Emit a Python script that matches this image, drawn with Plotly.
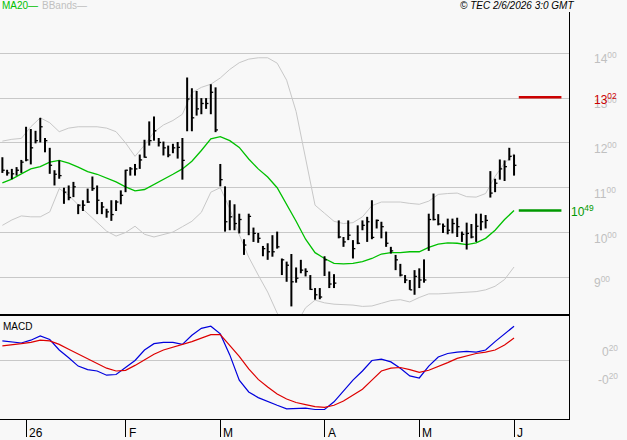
import numpy as np
import pandas as pd
import plotly.graph_objects as go

# ---------------- data ----------------
holidays = ["2025-12-25", "2025-12-26", "2026-01-01", "2026-04-03", "2026-04-06", "2026-05-01"]
dates = pd.bdate_range("2025-12-23", "2026-06-01", freq="C", holidays=holidays)

high = [11.68, 11.40, 11.42, 11.46, 11.62, 12.36, 12.31, 12.27, 12.56, 12.11,
        11.89, 11.39, 11.61, 11.00, 11.05, 11.13, 10.63, 10.72, 10.98, 11.25,
        11.05, 10.68, 10.53, 10.72, 10.72, 10.94, 11.40, 11.46, 11.53, 11.74,
        12.07, 12.48, 12.59, 12.11, 12.03, 11.94, 11.98, 12.02, 12.11, 13.46,
        13.22, 13.16, 13.00, 13.00, 13.31, 13.24, 11.53, 11.03, 10.72, 10.63,
        10.42, 9.85, 10.42, 10.11, 9.99, 9.70, 9.76, 9.94, 10.02, 9.42,
        9.35, 9.52, 9.22, 9.39, 9.20, 9.05, 8.76, 8.76, 9.47, 9.13,
        9.07, 10.27, 9.90, 10.27, 9.83, 10.16, 10.27, 10.35, 10.72, 10.29,
        10.24, 10.02, 9.68, 9.50, 9.30, 9.05, 8.94, 9.16, 9.20, 9.40,
        10.42, 10.87, 10.41, 10.20, 10.31, 10.31, 10.33, 10.02, 10.22, 10.19,
        10.42, 10.42, 10.39, 11.37, 11.20, 11.63, 11.61, 11.89, 11.74]
low = [11.33, 11.27, 11.19, 11.27, 11.33, 11.59, 11.52, 11.99, 12.01, 11.79,
       11.31, 11.05, 11.20, 10.64, 10.72, 10.79, 10.41, 10.48, 10.66, 10.93,
       10.41, 10.41, 10.33, 10.26, 10.48, 10.63, 10.90, 11.27, 11.27, 11.42,
       11.67, 11.94, 12.05, 11.92, 11.72, 11.68, 11.77, 11.65, 11.18, 12.26,
       12.26, 12.61, 12.64, 12.76, 12.64, 12.24, 11.03, 10.02, 10.05, 10.05,
       9.98, 9.50, 9.94, 9.79, 9.77, 9.47, 9.39, 9.46, 9.64, 9.05,
       8.90, 8.35, 8.88, 9.09, 9.02, 8.72, 8.50, 8.51, 9.03, 8.76,
       8.76, 9.87, 9.68, 9.83, 9.42, 9.74, 10.05, 9.79, 9.85, 10.09,
       9.87, 9.68, 9.53, 9.16, 9.02, 8.87, 8.72, 8.61, 8.76, 8.88,
       9.59, 10.27, 10.16, 9.99, 9.96, 9.98, 9.90, 9.79, 9.62, 9.87,
       9.79, 10.05, 10.09, 10.78, 10.90, 11.18, 11.15, 11.61, 11.27]
close = [11.39, 11.33, 11.31, 11.39, 11.57, 11.62, 11.89, 12.05, 12.36, 12.05,
         11.50, 11.30, 11.27, 10.90, 10.78, 11.02, 10.61, 10.61, 10.68, 10.98,
         10.72, 10.57, 10.46, 10.40, 10.68, 10.83, 11.39, 11.42, 11.42, 11.62,
         11.68, 12.05, 12.27, 12.01, 11.89, 11.73, 11.89, 11.90, 11.61, 12.98,
         12.56, 12.76, 12.88, 12.88, 13.13, 12.29, 11.18, 10.24, 10.35, 10.20,
         10.29, 9.72, 10.36, 9.98, 9.87, 9.64, 9.57, 9.57, 9.68, 9.39,
         9.27, 8.90, 8.98, 9.16, 9.13, 8.73, 8.61, 8.56, 9.39, 8.85,
         8.87, 9.90, 9.79, 9.94, 9.64, 9.76, 10.16, 10.24, 9.89, 10.27,
         10.13, 9.76, 9.59, 9.39, 9.05, 8.94, 8.72, 9.02, 8.94, 8.94,
         10.29, 10.29, 10.19, 10.14, 10.05, 10.20, 10.13, 9.96, 9.98, 9.90,
         10.14, 10.24, 10.27, 10.88, 11.10, 11.42, 11.47, 11.70, 11.50]

# indicator values read every second session
ma20 = [11.11, 11.19, 11.31, 11.42, 11.47, 11.57, 11.61, 11.55, 11.46, 11.36,
        11.30, 11.22, 11.13, 11.02, 10.93, 10.96, 11.07, 11.19, 11.30, 11.42,
        11.59, 11.83, 12.09, 12.14, 12.05, 11.90, 11.64, 11.42, 11.24, 11.00,
        10.63, 10.25, 9.85, 9.55, 9.42, 9.31, 9.30, 9.31, 9.35, 9.42,
        9.52, 9.55, 9.55, 9.57, 9.57, 9.67, 9.74, 9.77, 9.76, 9.73,
        9.77, 9.87, 10.05, 10.29, 10.49]
bb_up = [12.04, 12.08, 12.10, 12.36, 12.56, 12.45, 12.25, 12.33, 12.36, 12.36,
         12.36, 12.33, 12.25, 12.00, 11.70, 11.95, 12.24, 12.40, 12.50, 12.64,
         13.12, 13.24, 13.31, 13.45, 13.64, 13.79, 13.87, 13.90, 13.90, 13.78,
         13.40, 12.70, 11.65, 10.61, 10.43, 10.25, 10.20, 10.22, 10.35, 10.60,
         10.68, 10.68, 10.68, 10.65, 10.63, 10.70, 10.85, 10.87, 10.88, 10.80,
         10.79, 10.87, 11.25, 11.55, 11.76]
bb_lo = [10.16, 10.28, 10.37, 10.35, 10.35, 10.46, 10.98, 10.83, 10.62, 10.42,
         10.22, 10.03, 9.92, 10.00, 10.14, 9.96, 9.90, 9.95, 10.01, 10.13,
         10.25, 10.45, 10.90, 11.00, 10.53, 9.95, 9.45, 9.05, 8.67, 8.20,
         7.95, 7.95, 8.32, 8.49, 8.43, 8.40, 8.39, 8.38, 8.35, 8.36,
         8.42, 8.48, 8.50, 8.45, 8.55, 8.63, 8.63, 8.64, 8.65, 8.66,
         8.68, 8.72, 8.80, 8.95, 9.23]
macd = [0.28, 0.26, 0.25, 0.29, 0.35, 0.30, 0.15, 0.04, -0.08, -0.13,
        -0.15, -0.21, -0.20, -0.10, 0.00, 0.15, 0.24, 0.26, 0.26, 0.23,
        0.36, 0.46, 0.49, 0.38, 0.08, -0.28, -0.45, -0.53, -0.59, -0.64,
        -0.69, -0.68, -0.68, -0.70, -0.70, -0.59, -0.43, -0.28, -0.15, 0.00,
        0.02, -0.02, -0.11, -0.22, -0.25, -0.08, 0.05, 0.10, 0.12, 0.13,
        0.12, 0.15, 0.27, 0.38, 0.49]
signal = [0.21, 0.22, 0.24, 0.26, 0.29, 0.28, 0.23, 0.16, 0.09, 0.02,
          -0.05, -0.11, -0.15, -0.14, -0.07, 0.01, 0.09, 0.15, 0.19, 0.22,
          0.27, 0.32, 0.37, 0.37, 0.22, 0.06, -0.12, -0.27, -0.38, -0.48,
          -0.55, -0.60, -0.63, -0.66, -0.67, -0.64, -0.58, -0.49, -0.41, -0.28,
          -0.15, -0.11, -0.10, -0.13, -0.17, -0.14, -0.09, -0.03, 0.03, 0.07,
          0.10, 0.12, 0.15, 0.22, 0.32]

resistance = 13.02
price_ticks = [9, 10, 11, 12, 13, 14]
macd_ticks = [0.2, -0.2]

# ---------------- build ----------------
n = len(dates)
idx = np.arange(n)
ind_x = idx[::2]


def two_dec(v):
    s = f"{abs(v):.2f}"
    a, b = s.split(".")
    return ("-" if v < 0 else "") + f"{a}<sup>{b}</sup>"


bx, by, tx, ty = [], [], [], []
for i in range(n):
    bx += [i, i, None]
    by += [low[i], high[i], None]
    tx += [i, i + 0.5, None]
    ty += [close[i], close[i], None]

fig = go.Figure()
fig.add_trace(go.Scatter(x=ind_x, y=bb_up, mode="lines", line=dict(color="#c8c8c8", width=1),
                         xaxis="x", yaxis="y", hoverinfo="skip"))
fig.add_trace(go.Scatter(x=ind_x, y=bb_lo, mode="lines", line=dict(color="#c8c8c8", width=1),
                         xaxis="x", yaxis="y", hoverinfo="skip"))
fig.add_trace(go.Scatter(x=ind_x, y=ma20, mode="lines", line=dict(color="#00c000", width=1.3),
                         xaxis="x", yaxis="y", hoverinfo="skip"))
fig.add_trace(go.Scatter(x=bx, y=by, mode="lines", line=dict(color="black", width=2),
                         xaxis="x", yaxis="y", hoverinfo="skip"))
fig.add_trace(go.Scatter(x=tx, y=ty, mode="lines", line=dict(color="black", width=1.3),
                         xaxis="x", yaxis="y", hoverinfo="skip"))
# level markers right of the last session
lvl_x = [n, n + 9]
fig.add_trace(go.Scatter(x=lvl_x, y=[resistance, resistance], mode="lines",
                         line=dict(color="#cc0000", width=2.5), xaxis="x", yaxis="y", hoverinfo="skip"))
fig.add_trace(go.Scatter(x=lvl_x, y=[ma20[-1], ma20[-1]], mode="lines",
                         line=dict(color="#009900", width=2.5), xaxis="x", yaxis="y", hoverinfo="skip"))
# MACD
fig.add_trace(go.Scatter(x=ind_x, y=macd, mode="lines", line=dict(color="#0000dd", width=1.2),
                         xaxis="x2", yaxis="y2", hoverinfo="skip"))
fig.add_trace(go.Scatter(x=ind_x, y=signal, mode="lines", line=dict(color="#dd0000", width=1.2),
                         xaxis="x2", yaxis="y2", hoverinfo="skip"))

# month ticks
month_pos, month_txt = [], []
for i in range(1, n):
    if dates[i].month != dates[i - 1].month:
        month_pos.append(i)
        month_txt.append(dates[i].strftime("%y") if dates[i].month == 1 else dates[i].strftime("%b")[0])

xr = [-0.5, 119.6]
FONT = "Liberation Sans, Arial, sans-serif"
fig.update_layout(
    width=627, height=440,
    margin=dict(l=0, r=58, t=12, b=21),
    paper_bgcolor="#f8f8f8", plot_bgcolor="#f8f8f8",
    showlegend=False,
    font=dict(family=FONT, size=11, color="black"),
    xaxis=dict(domain=[0, 1], range=xr, anchor="y", showline=True, linecolor="black", linewidth=2,
               showticklabels=False, ticks="", showgrid=False, zeroline=False),
    yaxis=dict(domain=[0.258, 1], range=[8.181, 14.922], side="right", anchor="x",
               showline=True, linecolor="black", linewidth=1,
               showgrid=True, gridcolor="#c8c8c8", gridwidth=1, zeroline=False,
               tickvals=price_ticks, showticklabels=False, ticks=""),
    xaxis2=dict(domain=[0, 1], range=xr, anchor="y2", showline=True, linecolor="black", linewidth=1,
                showticklabels=False, ticks="outside", ticklen=17, tickcolor="black", tickwidth=1,
                tickvals=month_pos, showgrid=False, zeroline=False),
    yaxis2=dict(domain=[0, 0.2531], range=[-0.836, 0.636], side="right", anchor="x2",
                showline=True, linecolor="black", linewidth=1,
                showgrid=False, zeroline=True, zerolinecolor="#c8c8c8", zerolinewidth=1,
                tickvals=macd_ticks, showticklabels=False, ticks=""),
)

ann = []
for p, t in zip(month_pos, month_txt):
    ann.append(dict(x=p, y=0, xref="x2", yref="paper", text=t, showarrow=False,
                    xanchor="left", yanchor="middle", xshift=1, yshift=-14,
                    font=dict(size=12, color="black")))
for v in price_ticks:
    ann.append(dict(x=1, y=v, xref="paper", yref="y", text=two_dec(v), showarrow=False,
                    xanchor="left", yanchor="middle", xshift=23, yshift=-5,
                    font=dict(size=12, color="#c0c0c0")))
for v in macd_ticks:
    ann.append(dict(x=1, y=v, xref="paper", yref="y2", text=two_dec(v), showarrow=False,
                    xanchor="right", yanchor="middle", xshift=51, yshift=-5,
                    font=dict(size=12, color="#c0c0c0")))
ann.append(dict(x=1, y=resistance, xref="paper", yref="y", text=two_dec(resistance), showarrow=False,
                xanchor="left", yanchor="middle", xshift=23, yshift=-2,
                font=dict(size=12, color="#cc0000")))
ann.append(dict(x=1, y=ma20[-1], xref="paper", yref="y", text=two_dec(ma20[-1]), showarrow=False,
                xanchor="left", yanchor="middle", xshift=0, yshift=0,
                font=dict(size=12, color="#009900")))
ann.append(dict(x=0, y=1, xref="paper", yref="paper", text="MA20—", showarrow=False,
                xanchor="left", yanchor="middle", xshift=0, yshift=7,
                font=dict(size=10, color="#00c000")))
ann.append(dict(x=0, y=1, xref="paper", yref="paper", text="BBands—", showarrow=False,
                xanchor="left", yanchor="middle", xshift=40, yshift=7,
                font=dict(size=10, color="#c0c0c0")))
ann.append(dict(x=1, y=1, xref="paper", yref="paper", text="<i>© TEC 2/6/2026 3:0 GMT</i>", showarrow=False,
                xanchor="right", yanchor="middle", xshift=7, yshift=7,
                font=dict(size=10, color="black")))
ann.append(dict(x=0, y=0.2531, xref="paper", yref="paper", text="MACD", showarrow=False,
                xanchor="left", yanchor="top", xshift=1, yshift=-3,
                font=dict(size=10, color="black")))
fig.update_layout(annotations=ann)

fig.write_html("out.html")
